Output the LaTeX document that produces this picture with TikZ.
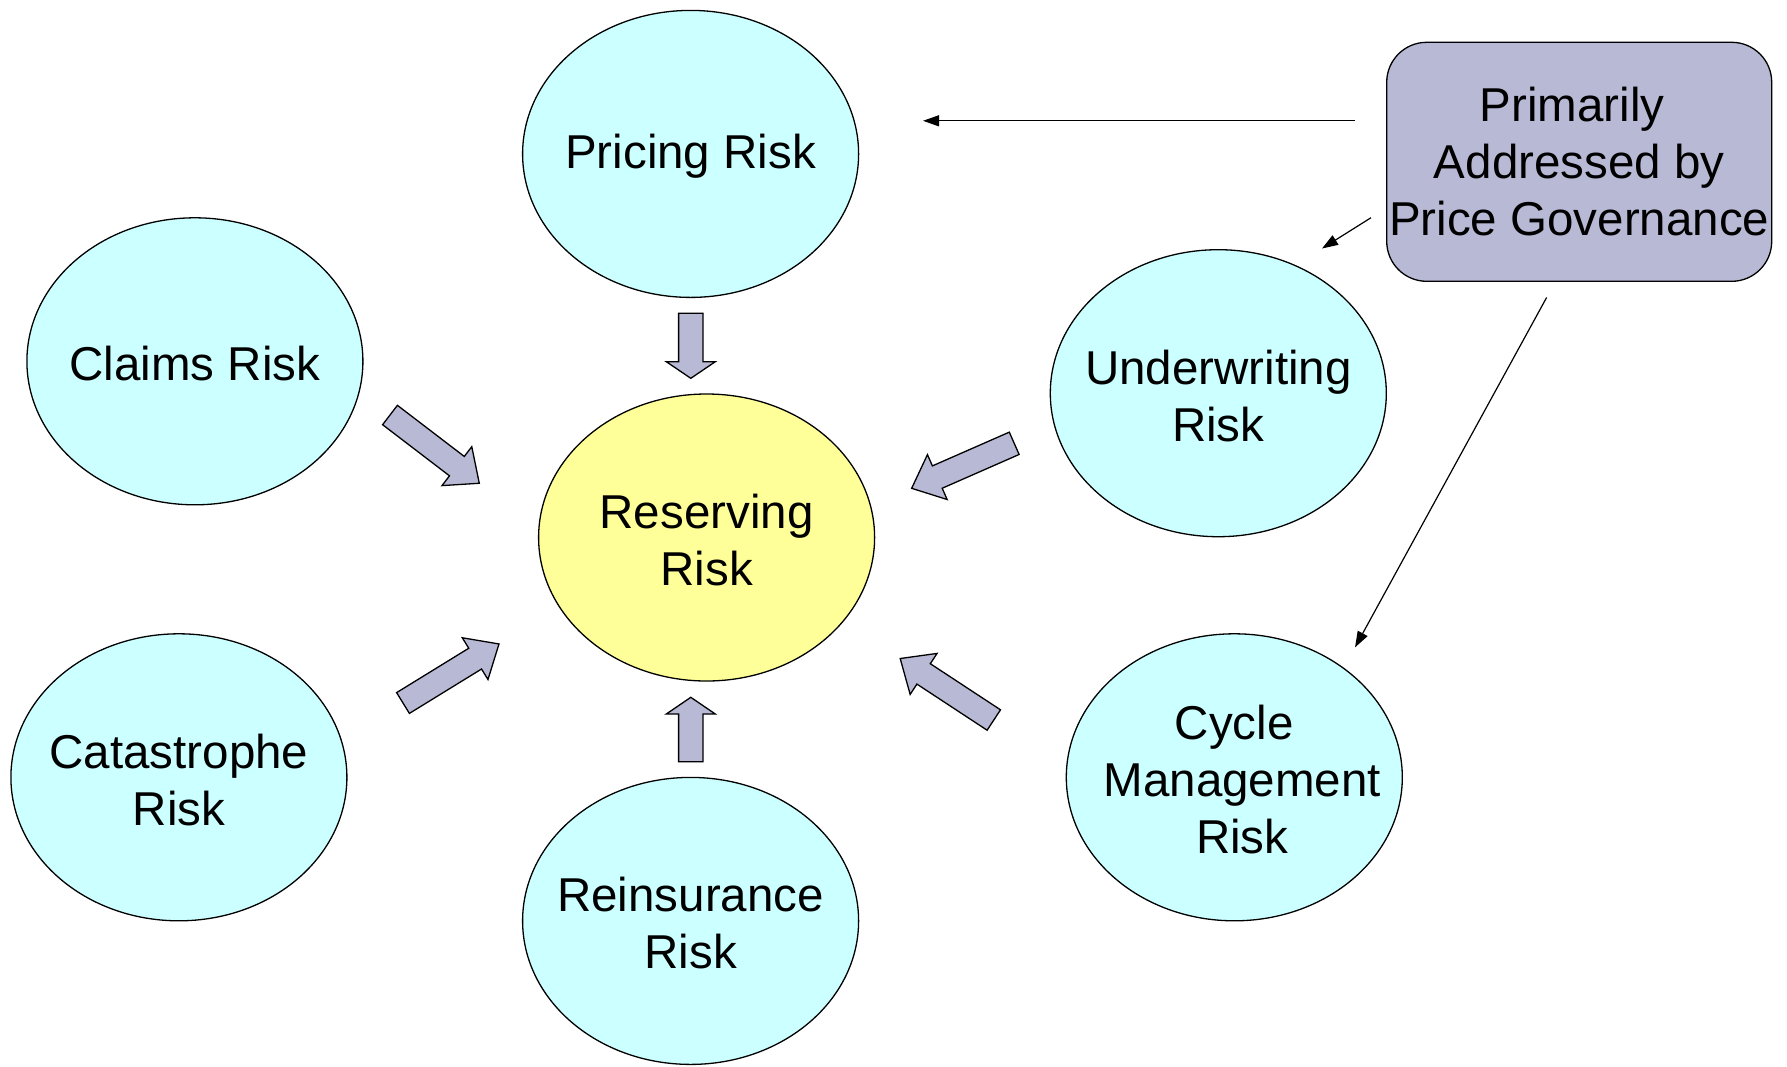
\documentclass[tikz,border=0pt]{standalone}
\usepackage{fontspec}
\setmainfont{Liberation Sans}
\usetikzlibrary{shapes.geometric,arrows.meta}

\definecolor{riskcyan}{HTML}{CCFFFF}
\definecolor{riskyellow}{HTML}{FFFF99}
\definecolor{govlilac}{HTML}{B8B9D5}

\tikzset{
  risk/.style={ellipse, draw=black, line width=1.3pt, fill=riskcyan,
    minimum width=336pt, minimum height=287pt, inner sep=0pt},
  core/.style={risk, fill=riskyellow},
  label text/.style={align=center, inner sep=0pt, yshift=-2.5pt,
    font=\fontsize{47.5}{57}\selectfont},
  govbox/.style={rectangle, rounded corners=40pt, draw=black, line width=1.3pt,
    fill=govlilac, minimum width=385pt, minimum height=239pt, inner sep=0pt},
  pointer/.style={line width=1.2pt, -{Triangle[length=16pt,width=11pt]}},
  % block arrow: #1 total length, #2 head length
  pics/fatarrow/.style 2 args={code={
    \filldraw[fill=govlilac, draw=black, line width=1.3pt, line join=miter]
      (0,-12.2) -- ({#1-#2},-12.2) -- ({#1-#2},-24.5) -- (#1,0)
      -- ({#1-#2},24.5) -- ({#1-#2},12.2) -- (0,12.2) -- cycle;}}
}

\begin{document}
\begin{tikzpicture}[x=1pt, y=-1pt]
  \useasboundingbox (0,0) rectangle (1787,1066);

  % risk bubbles
  \node[risk] (pricing)  at (690.6,153.9) {};
  \node[risk] (claims)   at (194.9,361.3) {};
  \node[risk] (cat)      at (178.9,777.3) {};
  \node[core] (reserve)  at (706.6,537.5) {};
  \node[risk] (reins)    at (690.6,920.9) {};
  \node[risk] (under)    at (1218.3,393.2) {};
  \node[risk] (cycle)    at (1234.3,777.3) {};

  % bubble captions
  \node[label text] (pricingtxt) at (pricing) {Pricing Risk};
  \node[label text] (claimstxt)  at (claims)  {Claims Risk};
  \node[label text] (cattxt)     at (cat)     {Catastrophe\\Risk};
  \node[label text] (reservetxt) at (reserve) {Reserving\\Risk};
  \node[label text] (reinstxt)   at (reins)   {Reinsurance\\Risk};
  \node[label text] (undertxt)   at (under)   {Underwriting\\Risk};
  \node[label text, xshift=8pt] (cycletxt) at (cycle)
    {Cycle\hspace*{16pt}\\Management\\Risk};

  % governance box
  \node[govbox] (gov) at (1579.2,161.8) {};
  \node[label text, yshift=2.5pt] (govtxt) at (gov)
    {Primarily\hspace*{14pt}\\Addressed by\hspace*{14pt}\\Price Governance};

  % block arrows feeding reserving risk
  \pic[rotate=-90]    at (690.8,313.3)  {fatarrow={65}{16.6}};
  \pic[rotate=90]     at (690.8,761.7)  {fatarrow={64.4}{16.7}};
  \pic[rotate=-37.4]  at (390,415)      {fatarrow={112.4}{28.2}};
  \pic[rotate=31.6]   at (403,703)      {fatarrow={112.7}{28}};
  \pic[rotate=-156.3] at (1014.2,443.3) {fatarrow={112}{28}};
  \pic[rotate=146.7]  at (993.8,720)    {fatarrow={112}{28}};

  % governance pointers
  \coordinate (p1s) at (1355,120.8);
  \coordinate (p1e) at (923,120.8);
  \coordinate (p2s) at (1371,217.7);
  \coordinate (p2e) at (1322,248.5);
  \coordinate (p3s) at (1546.6,297.5);
  \coordinate (p3e) at (1355,647.4);
  \draw[pointer] (p1s) -- (p1e);
  \draw[pointer] (p2s) -- (p2e);
  \draw[pointer] (p3s) -- (p3e);
\end{tikzpicture}
\end{document}
